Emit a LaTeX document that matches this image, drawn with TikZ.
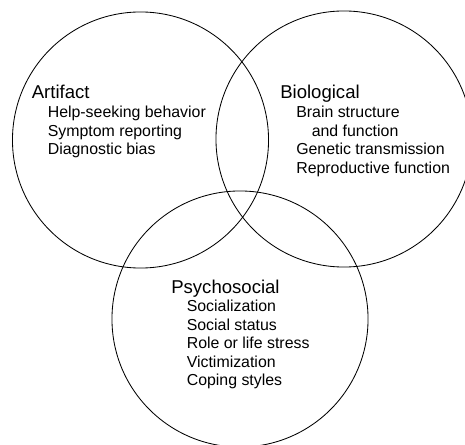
\documentclass[tikz,border=0pt]{standalone}
\usepackage{fontspec}
\setmainfont{Liberation Sans}
\usepackage{tikz}
\usetikzlibrary{calc}

\tikzset{
  head/.style={anchor=base west,inner sep=0pt,font=\fontsize{13.2}{15}\selectfont},
  item/.style={anchor=base west,inner sep=0pt,font=\fontsize{11.3}{13}\selectfont}
}

\begin{document}
\begin{tikzpicture}[x=0.025cm,y=-0.025cm]
\useasboundingbox (0,0) rectangle (465,445);
%% the three circles
   \draw [black,line width=0.6pt] (140.5,140) circle [radius=3.2cm];
   \draw [black,line width=0.6pt] (344,139) circle [radius=3.2cm];
   \draw [black,line width=0.6pt] (240,319) circle [radius=3.2cm];
%% artifact
\node[head] (artifact) at (31.5,99) {Artifact};
\foreach \y/\txt/\nm in {118/Help-seeking behavior/art1, 136.5/Symptom reporting/art2, 155/Diagnostic bias/art3}
    \node[item] (\nm) at (47.5,\y) {\txt};
%% biological
\node[head] (biological) at (280,99) {Biological};
\foreach \y/\txt/\nm in {118/Brain structure/bio1, 155/Genetic transmission/bio3, 173.5/Reproductive function/bio4}
    \node[item] (\nm) at (296,\y) {\txt};
\node[item] (bio2) at (311.5,136.5) {and function};
%% psychosocial
\node[head] (psychosocial) at (171,293) {Psychosocial};
\foreach \y/\txt/\nm in {311.5/Socialization/psy1, 330/Social status/psy2, 348.5/Role or life stress/psy3, 367/Victimization/psy4, 385.5/Coping styles/psy5}
    \node[item] (\nm) at (186.5,\y) {\txt};
\end{tikzpicture}
\end{document}
